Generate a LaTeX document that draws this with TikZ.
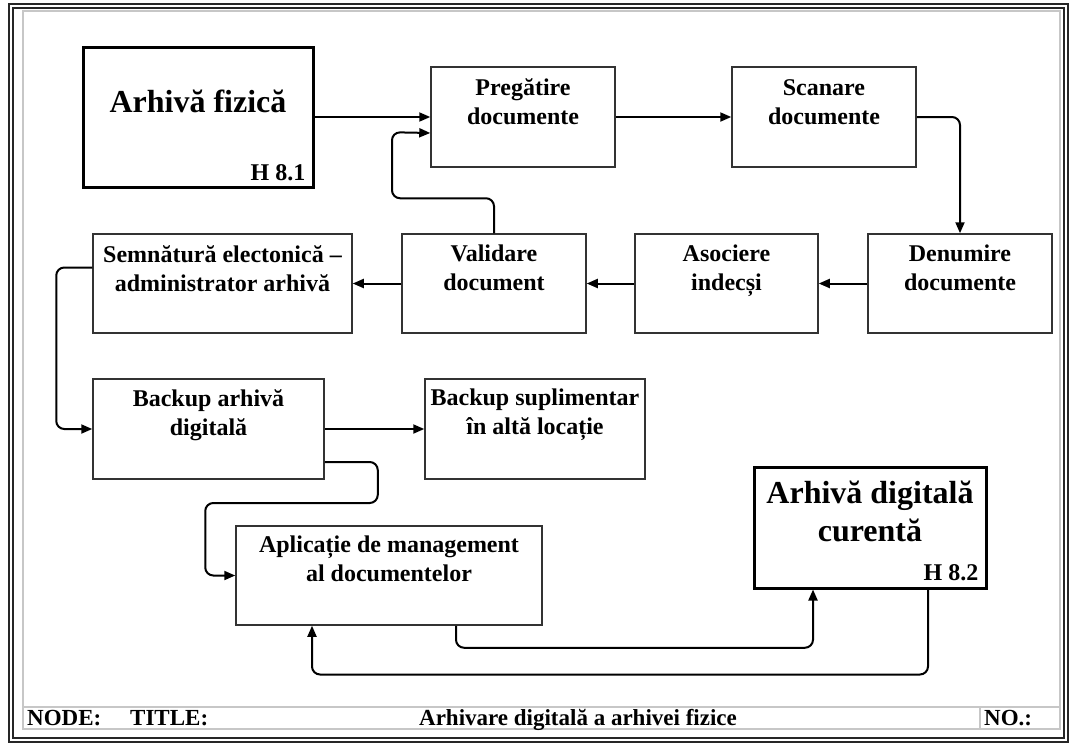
\documentclass[tikz,border=0pt]{standalone}
\usepackage{fontspec}
\setmainfont{Liberation Serif}
\usetikzlibrary{arrows.meta,calc}
\newcommand\fsx{\rule{0pt}{18pt}}
\newcommand\fsy{\rule{0pt}{22pt}}
\begin{document}
\begin{tikzpicture}[x=1pt,y=-1pt,
  box/.style={draw=black!80, line width=1.5pt, inner sep=0pt, rectangle},
  bigbox/.style={draw=black, line width=3pt, inner sep=0pt, rectangle},
  lbl/.style={font=\fontsize{24}{29}\selectfont\bfseries, align=center, anchor=north, inner sep=0pt},
  biglbl/.style={font=\fontsize{32}{38}\selectfont\bfseries, align=center, inner sep=0pt},
  hlbl/.style={font=\fontsize{24}{28}\selectfont\bfseries, anchor=base east, inner sep=0pt},
  foot/.style={font=\fontsize{23}{27}\selectfont\bfseries, anchor=base west, inner sep=0pt},
  conn/.style={line width=2pt, rounded corners=8pt, -{Triangle[length=11pt,width=9pt]}},
  outer/.style={draw=black!85, line width=1.3pt},
  inner/.style={draw=black!22, line width=1.2pt}]
\useasboundingbox (0,0) rectangle (1072,744);
% frame
\draw[outer] (9,4) rectangle (1068,742);
\draw[outer] (13,8) rectangle (1064,738);
\draw[inner] (23,11) rectangle (1060,729);
\draw[inner] (23,707) -- (1060,707);
\draw[inner] (980,707) -- (980,729);
\node[foot] (fnode) at (27,725) {NODE:};
\node[foot] (ftitle) at (130,725) {TITLE:};
\node[foot, anchor=base] (fname) at (578,725) {Arhivare digitală a arhivei fizice};
\node[foot] (fno) at (984,725) {NO.:};
% big boxes
\node[bigbox, minimum width=230pt, minimum height=140pt] (af) at (198,117) {};
\node[biglbl, anchor=base] at (198,112) {Arhivă fizică};
\node[hlbl] at ($(af.south east)+(-9,-8)$) {H 8.1};
\node[bigbox, minimum width=232pt, minimum height=121pt] (adc) at (870,527.5) {};
\node[biglbl, anchor=north] at (870,481) {\fsy Arhivă digitală\\curentă};
\node[hlbl] at ($(adc.south east)+(-9,-9)$) {H 8.2};
% process boxes
\node[box, minimum width=184pt, minimum height=100pt] (preg) at (523,117) {};
\node[lbl] at ($(preg.north)+(0,11)$) {\fsx Pregătire\\documente};
\node[box, minimum width=184pt, minimum height=100pt] (scan) at (824,117) {};
\node[lbl] at ($(scan.north)+(0,11)$) {\fsx Scanare\\documente};
\node[box, minimum width=184pt, minimum height=99pt] (den) at (960,283.5) {};
\node[lbl] at ($(den.north)+(0,10)$) {\fsx Denumire\\documente};
\node[box, minimum width=183pt, minimum height=99pt] (aso) at (726.5,283.5) {};
\node[lbl] at ($(aso.north)+(0,10)$) {\fsx Asociere\\indecși};
\node[box, minimum width=184pt, minimum height=99pt] (val) at (494,283.5) {};
\node[lbl] at ($(val.north)+(0,10)$) {\fsx Validare\\document};
\node[box, minimum width=259pt, minimum height=99pt] (sem) at (222.5,283.5) {};
\node[lbl] at ($(sem.north)+(0,11)$) {\fsx Semnătură electonică –\\administrator arhivă};
\node[box, minimum width=231pt, minimum height=100pt] (bak) at (208.5,429) {};
\node[lbl] at ($(bak.north)+(0,10)$) {\fsx Backup arhivă\\digitală};
\node[box, minimum width=220pt, minimum height=100pt] (bsup) at (535,429) {};
\node[lbl] at ($(bsup.north)+(0,9)$) {\fsx Backup suplimentar\\în altă locație};
\node[box, minimum width=306pt, minimum height=99pt] (apl) at (389,575.5) {};
\node[lbl] at ($(apl.north)+(0,9)$) {\fsx Aplicație de management\\al documentelor};
% connectors
\draw[conn] (af.east) -- (preg.west);
\draw[conn] (preg.east) -- (scan.west);
\draw[conn] (scan.east) -| (den.north);
\draw[conn] (den.west) -- (aso.east);
\draw[conn] (aso.west) -- (val.east);
\draw[conn] (val.west) -- (sem.east);
\draw[conn] (val.north) -- ++(0,-35) -- ++(-102,0) -- ++(0,-66) -- ($(preg.west)+(0,16)$);
\draw[conn] ($(sem.west)+(0,-16)$) -| ($(bak.west)+(-36,0)$) -- (bak.west);
\draw[conn] (bak.east) -- (bsup.west);
\draw[conn] ($(bak.east)+(0,33)$) -- ++(53,0) -- ++(0,41) -| ($(apl.west)+(-30,0)$) -- (apl.west);
\draw[conn] ($(apl.south)+(67,0)$) -- ++(0,22) -| ($(adc.south)+(-57,0)$);
\draw[conn] ($(adc.south)+(58,0)$) -- ++(0,85) -| ($(apl.south)+(-77,0)$);
\end{tikzpicture}
\end{document}
